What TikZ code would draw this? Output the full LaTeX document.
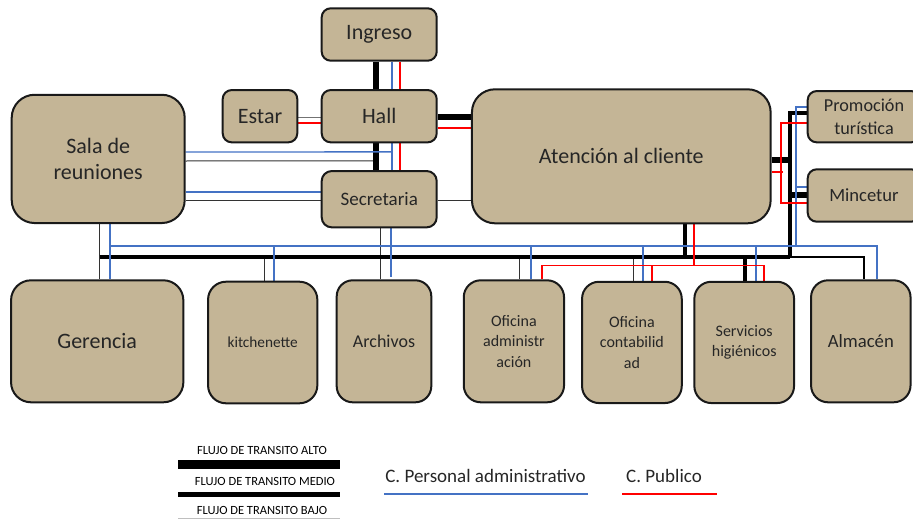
\documentclass[tikz,border=0pt]{standalone}
\usepackage{fontspec}
\setmainfont{Carlito}
\usetikzlibrary{backgrounds}
\definecolor{roomfill}{RGB}{196,181,150}
\definecolor{persblue}{RGB}{68,114,196}
\definecolor{pubred}{RGB}{255,0,0}
\tikzset{
  room/.style={draw=black!90, line width=2pt, fill=roomfill, inner sep=0pt,
    align=center, text=black!85},
  alto/.style={line width=6.5pt, black},
  medio/.style={line width=3.5pt, black},
  bajo/.style={line width=1pt, black!80},
  pers/.style={line width=1.3pt, persblue},
  persT/.style={line width=2.5pt, persblue},
  pub/.style={line width=1.3pt, pubred},
  legtext/.style={inner sep=0pt, text=black, font=\fontsize{12.5}{14}\selectfont},
  legkey/.style={inner sep=0pt, text=black!85, font=\fontsize{19}{21}\selectfont},
}
\begin{document}
\begin{tikzpicture}[x=1pt, y=-1pt]
\useasboundingbox (0,0) rectangle (913,519);
\clip (0,0) rectangle (913,519);

% rooms
\node[room, rounded corners=9pt, minimum width=115pt, minimum height=52.4pt, font=\fontsize{22}{26}\selectfont] (ingreso) at (379.2,34.5) {Ingreso};
\node[room, rounded corners=9pt, minimum width=115pt, minimum height=52.3pt, font=\fontsize{22}{26}\selectfont] (hall) at (379.2,116.2) {Hall};
\node[room, rounded corners=9pt, minimum width=74.6pt, minimum height=52.3pt, font=\fontsize{22}{26}\selectfont] (estar) at (260,116.2) {Estar};
\node[room, rounded corners=23pt, minimum width=173pt, minimum height=128.3pt, font=\fontsize{22}{26.6}\selectfont] (sala) at (98.2,158.9) {Sala de\\reuniones};
\node[room, rounded corners=10pt, minimum width=115pt, minimum height=56.3pt, font=\fontsize{19}{22}\selectfont] (secretaria) at (379.2,199.2) {Secretaria};
\node[room, rounded corners=23pt, minimum width=298.7pt, minimum height=134pt, font=\fontsize{22}{26}\selectfont] (atencion) at (621.3,156.3) {Atención al cliente};
\node[room, rounded corners=9pt, minimum width=112.6pt, minimum height=51.3pt, font=\fontsize{18.2}{22.7}\selectfont] (promocion) at (864,116.7) {Promoción\\turística};
\node[room, rounded corners=9pt, minimum width=112.6pt, minimum height=52.4pt, font=\fontsize{18.6}{22}\selectfont] (mincetur) at (864,195.5) {Mincetur};
\node[room, rounded corners=20pt, minimum width=172.3pt, minimum height=122pt, font=\fontsize{22}{26}\selectfont] (gerencia) at (97.2,341.3) {Gerencia};
\node[room, rounded corners=18pt, minimum width=109.3pt, minimum height=121.6pt, font=\fontsize{15.3}{18}\selectfont] (kitchen) at (262.7,342.5) {kitchenette};
\node[room, rounded corners=16pt, minimum width=94.6pt, minimum height=122pt, font=\fontsize{18}{21}\selectfont] (archivos) at (384,341.3) {Archivos};
\node[room, rounded corners=17pt, minimum width=100.3pt, minimum height=122pt, font=\fontsize{16}{20.5}\selectfont] (ofadmin) at (513.9,341.3) {Oficina\\administr\\ación};
\node[room, rounded corners=17pt, minimum width=99.7pt, minimum height=121.3pt, font=\fontsize{16}{20.5}\selectfont] (ofcont) at (631.9,342.4) {Oficina\\contabilid\\ad};
\node[room, rounded corners=17pt, minimum width=99.7pt, minimum height=121.3pt, font=\fontsize{16}{20}\selectfont] (servicios) at (744.2,342.4) {Servicios\\higiénicos};
\node[room, rounded corners=17pt, minimum width=99.5pt, minimum height=122pt, font=\fontsize{18.7}{22}\selectfont] (almacen) at (860.8,341.3) {Almacén};

% junction points of the corridors
\coordinate (busK) at (99.5,257);
\coordinate (spine) at (790,257);
\coordinate (busB) at (110,246);
\coordinate (blueS) at (796,246);
\coordinate (busR) at (542,265.7);
\coordinate (redJ) at (781,172);

\begin{pgfonlayer}{background}
% low traffic
\draw[bajo, black!55] ([yshift=-0.8pt]estar.east) -- ([yshift=-0.8pt]hall.west);
\draw[bajo] ([yshift=-2.1pt]sala.east) -- ([xshift=-3.2pt,yshift=-17.5pt]hall.south);
\draw[bajo] ([yshift=-41.1pt]sala.east) -- ([yshift=-0.8pt]secretaria.west);
\draw[bajo] ([yshift=-0.8pt]secretaria.east) -- ([yshift=-43.7pt]atencion.west);
\draw[bajo] ([xshift=1.3pt]sala.south) -- ([xshift=2.3pt]gerencia.north);
\draw[bajo] ([xshift=0.8pt]secretaria.south) -- ([xshift=-4pt]archivos.north);
\foreach \n/\dx in {kitchen/1.3, ofadmin/5.1, ofcont/1.1}
  \draw[bajo] ([xshift=\dx pt]\n.north) -- ([xshift=\dx pt]\n.north |- busK);

% medium traffic
\draw[medio] (busK) -- (spine);
\draw[medio] ([xshift=63.7pt]atencion.south) -- ([xshift=63.7pt]atencion.south |- busK);
\draw[medio] ([xshift=0.8pt]servicios.north) -- ([xshift=0.8pt]servicios.north |- busK);
\draw[medio] ([yshift=3.7pt]promocion.west) -| (spine);
\draw[line width=2pt] (spine) -| ([xshift=3.2pt]almacen.north);

% high traffic
\draw[alto] ([xshift=-3.2pt]ingreso.south) -- ([xshift=-3.2pt]hall.north);
\draw[alto] ([xshift=-3.2pt]hall.south) -- ([xshift=-3.2pt]secretaria.north);
\draw[alto] ([yshift=-0.8pt]hall.east) -- ([yshift=39.3pt]atencion.west);
\draw[alto] ([yshift=-3.7pt]atencion.east) -- ([yshift=-3.7pt,xshift=1.8pt]atencion.east -| spine);
\draw[alto] ([yshift=0.5pt]mincetur.west) -- ([yshift=0.5pt,xshift=-1.8pt]mincetur.west -| spine);

% staff circulation
\draw[pers] ([xshift=12.8pt]ingreso.south) -- ([xshift=12.8pt]hall.north);
\draw[pers] ([xshift=12.8pt]hall.south) -- ([xshift=12.8pt]secretaria.north);
\draw[pers] ([yshift=6.9pt]sala.east) -- ([xshift=12.8pt,yshift=-8.5pt]hall.south);
\draw[pers] ([yshift=-33.1pt]sala.east) -- ([yshift=7.2pt]secretaria.west);
\draw[persT] ([xshift=11.8pt]sala.south) -- ([xshift=12.8pt]gerencia.north);
\draw[persT] ([xshift=11.8pt]secretaria.south) -- ([xshift=7pt,yshift=2.5pt]archivos.north);
\draw[pers] (busB) -| ([xshift=16.2pt]almacen.north);
\foreach \n/\dx in {kitchen/11.3, ofadmin/17.1, ofcont/11.1}
  \draw[persT] ([xshift=\dx pt]\n.north) -- ([xshift=\dx pt]\n.north |- busB);
\draw[pers] ([xshift=11.8pt]servicios.north) -- ([xshift=11.8pt]servicios.north |- busB);
\draw[pers] ([yshift=9.7pt]promocion.west) -| (blueS);
\draw[pers] ([yshift=8.5pt]mincetur.west) -- ([yshift=8.5pt]mincetur.west -| blueS);

% public circulation
\draw[pub] ([xshift=20.8pt]ingreso.south) -- ([xshift=20.8pt]hall.north);
\draw[pub] ([xshift=20.8pt]hall.south) -- ([xshift=20.8pt]secretaria.north);
\draw[pub] ([yshift=-6.8pt]estar.east) -- ([yshift=-6.8pt]hall.west);
\draw[pub] ([yshift=-11.8pt]hall.east) -- ([yshift=28.3pt]atencion.west);
\draw[pub] ([yshift=-15.7pt]atencion.east) -- ([xshift=2pt]redJ);
\draw[pub] ([yshift=-6.3pt]promocion.west) -| (redJ) |- ([yshift=-7.5pt]mincetur.west);
\draw[pub] ([xshift=72.7pt]atencion.south) -- ([xshift=72.7pt]atencion.south |- busR);
\draw[pub] ([xshift=28.1pt]ofadmin.north) |- ([xshift=19.8pt]servicios.north |- busR) -- ([xshift=19.8pt]servicios.north);
\draw[pub] ([xshift=20.1pt]ofcont.north) -- ([xshift=20.1pt]ofcont.north |- busR);
\end{pgfonlayer}

% legend
\node[legtext] (lgAlto) at (262,450) {FLUJO DE TRANSITO ALTO};
\node[legtext] (lgMedio) at (265,481) {FLUJO DE TRANSITO MEDIO};
\node[legtext] (lgBajo) at (262,510.5) {FLUJO DE TRANSITO BAJO};
\coordinate (lgL) at (178,0);
\coordinate (lgR) at (340,0);
\draw[line width=8.5pt] (lgL |- 0,464.5) -- (lgR |- 0,464.5);
\draw[line width=4.5pt] (lgL |- 0,494.5) -- (lgR |- 0,494.5);
\draw[line width=0.8pt, black!25] (lgL |- 0,518) -- (lgR |- 0,518);
\node[legkey] (lgPers) at (485.5,475.5) {C. Personal administrativo};
\node[legkey] (lgPub) at (664,475.5) {C. Publico};
\draw[persblue, line width=2.2pt] (384,494.3) -- (587.5,494.3);
\draw[pubred, line width=2.2pt] (622,494.3) -- (717,494.3);
\end{tikzpicture}
\end{document}
